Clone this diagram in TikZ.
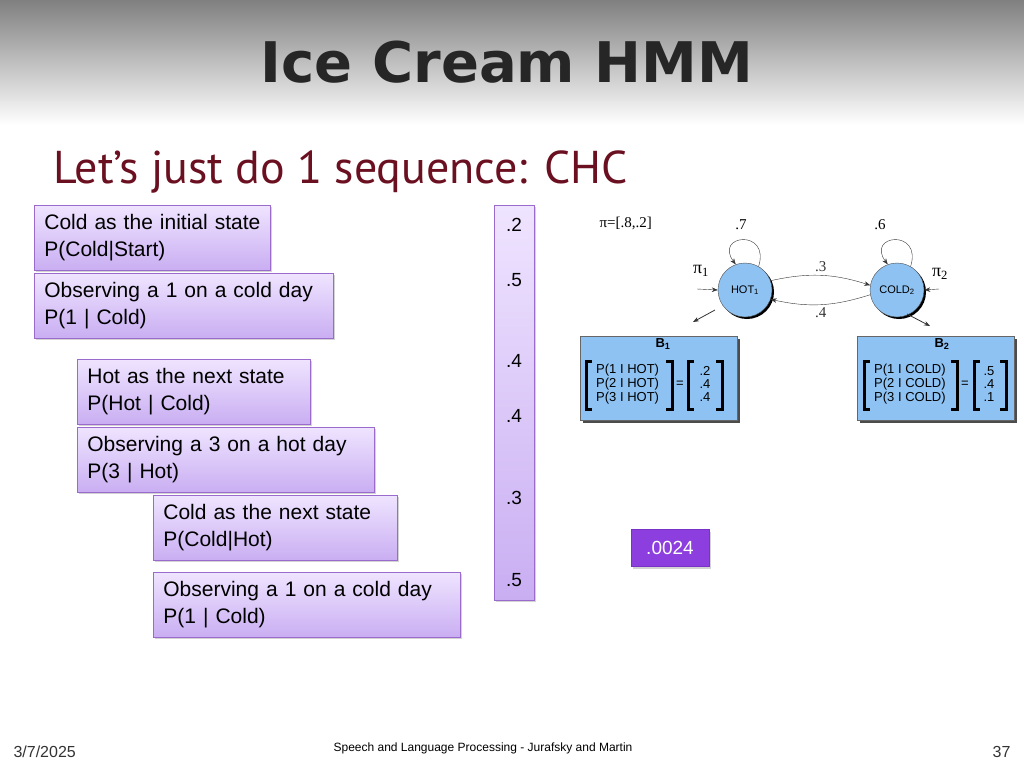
\documentclass[tikz,border=0pt]{standalone}
\usepackage{fontspec}
\setmainfont{Liberation Sans}
\newfontfamily\titlefont{DejaVu Sans}
\newfontfamily\subfont{PT Sans}
\newfontfamily\serf{Liberation Serif}
\usetikzlibrary{arrows.meta,shadows}
\definecolor{boxtop}{HTML}{EFE4FF}
\definecolor{boxbot}{HTML}{C9AEF2}
\definecolor{boxline}{HTML}{9A6ACD}
\definecolor{dred}{HTML}{6B1020}
\definecolor{hmmblue}{HTML}{8EC2F2}
\tikzset{
  lbox/.style={draw=boxline,line width=0.8pt,top color=boxtop,bottom color=boxbot,
    drop shadow={shadow xshift=2pt,shadow yshift=-2pt,opacity=0.35},
    anchor=north west,align=left,inner sep=0pt,text width=#1,minimum height=65pt,
    font=\fontsize{21}{27}\selectfont},
  st/.style={circle,draw=black!70,fill=hmmblue,minimum size=54pt,inner sep=0pt,
    drop shadow={shadow xshift=2pt,shadow yshift=-2pt,fill=black,opacity=1},font=\fontsize{11}{12}\selectfont},
  bbox/.style={draw=black!60,fill=hmmblue,anchor=north west,minimum width=157pt,minimum height=84pt,
    drop shadow={shadow xshift=2.5pt,shadow yshift=-2.5pt,fill=black!70,opacity=1}},
  val/.style={font=\fontsize{19}{20}\selectfont},
  arr/.style={-{Stealth[length=6pt]},black!80},
  lab/.style={font=\fontsize{15}{15}\selectfont\serf},
  mtx/.style={font=\fontsize{13}{13}\selectfont,anchor=west,inner sep=0pt},
  brk/.style={line width=3pt}
}
\begin{document}
\begin{tikzpicture}[x=1pt,y=-1pt]
\useasboundingbox (0,0) rectangle (1024,768);
\shade[top color=black!50,bottom color=white] (0,0) rectangle (1024,125);
\node[font=\titlefont\bfseries\fontsize{56}{56}\selectfont,text=black!85] (title) at (507,62) {Ice Cream HMM};
\node[anchor=west,font=\subfont\fontsize{46}{46}\selectfont,text=dred] (sub) at (50,172) {Let’s just do 1 sequence: CHC};

\node[lbox=236pt] (b1) at (34,205) {\hspace*{10pt}Cold as the initial state\\\hspace*{10pt}P(Cold|Start)};
\node[lbox=299pt] (b2) at (34,273) {\hspace*{10pt}Observing a 1 on a cold day\\\hspace*{10pt}P(1 | Cold)};
\node[lbox=233pt] (b3) at (77,359) {\hspace*{10pt}Hot as the next state\\\hspace*{10pt}P(Hot | Cold)};
\node[lbox=297pt] (b4) at (77,427) {\hspace*{10pt}Observing a 3 on a hot day\\\hspace*{10pt}P(3 | Hot)};
\node[lbox=244pt] (b5) at (153,495) {\hspace*{10pt}Cold as the next state\\\hspace*{10pt}P(Cold|Hot)};
\node[lbox=307pt] (b6) at (153,572) {\hspace*{10pt}Observing a 1 on a cold day\\\hspace*{10pt}P(1 | Cold)};

\node[draw=boxline,line width=0.8pt,top color=boxtop,bottom color=boxbot,anchor=north west,
  minimum width=40pt,minimum height=395pt,inner sep=0pt,
  drop shadow={shadow xshift=2pt,shadow yshift=-2pt,opacity=0.35}] (bar) at (494,205) {};
\node[val] (v1) at (514,225) {.2};
\node[val] (v2) at (514,280) {.5};
\node[val] (v3) at (514,361) {.4};
\node[val] (v4) at (514,416) {.4};
\node[val] (v5) at (514,498) {.3};
\node[val] (v6) at (514,580) {.5};

\node[fill={rgb,255:red,140;green,62;blue,222},draw={rgb,255:red,120;green,50;blue,200},
  text=white,minimum width=78pt,minimum height=37pt,font=\fontsize{19}{20}\selectfont,
  drop shadow={shadow xshift=2pt,shadow yshift=-2pt,opacity=0.35}] (res) at (670,548) {.0024};

% HMM
\node[lab,anchor=west] (pi) at (596,223) {π=[.8,.2]};
\node[st] (hot) at (745,290) {HOT\textsubscript{1}};
\node[st] (cold) at (897,290) {COLD\textsubscript{2}};
\draw[arr] (hot.60) .. controls +(12,-38) and +(-22,-30) .. (hot.110);
\draw[arr] (cold.60) .. controls +(12,-38) and +(-22,-30) .. (cold.110);
\node[lab] (l7) at (741,225) {.7};
\node[lab] (l6) at (880,225) {.6};
\draw[arr,thin] (hot.20) to[bend left=15] node[lab,above] {.3} (cold.170);
\draw[arr,thin] (cold.190) to[bend left=15] node[lab,below] {.4} (hot.-20);
\coordinate (p1s) at (697,289);
\draw[arr] (p1s) -- (hot.west);
\node[lab,font=\fontsize{18}{18}\selectfont\serf] (p1) at (701,271) {π\textsubscript{1}};
\coordinate (p2s) at (939,289);
\draw[arr] (p2s) -- (cold.east);
\node[lab,font=\fontsize{18}{18}\selectfont\serf] (p2) at (940,274) {π\textsubscript{2}};
\coordinate (a1) at (693,322);
\draw[arr,thick] (715,310) -- (a1);
\coordinate (a2) at (930,326);
\draw[arr,thick] (907,314) -- (a2);

\node[bbox] (B1) at (580,336) {};
\node[bbox] (B2) at (857,336) {};
\node[font=\bfseries\fontsize{13}{13}\selectfont] at (663,344) {B\textsubscript{1}};
\node[font=\bfseries\fontsize{13}{13}\selectfont] at (942,344) {B\textsubscript{2}};
% B1 matrix
\node[mtx] (m11) at (596,370) {P(1 I HOT)};
\node[mtx] (m12) at (596,384) {P(2 I HOT)};
\node[mtx] (m13) at (596,398) {P(3 I HOT)};
\node[font=\fontsize{13}{13}\selectfont] (e1) at (680,384) {=};
\node[font=\fontsize{13}{13}\selectfont,align=center] (r1) at (705,384) {.2\\.4\\.4};
\draw[brk] (592,361) -- (586,361) -- (586,409) -- (592,409);
\draw[brk] (666,361) -- (672,361) -- (672,409) -- (666,409);
\draw[brk] (694,361) -- (688,361) -- (688,409) -- (694,409);
\draw[brk] (716,361) -- (722,361) -- (722,409) -- (716,409);
% B2 matrix
\node[mtx] (m21) at (874,370) {P(1 I COLD)};
\node[mtx] (m22) at (874,384) {P(2 I COLD)};
\node[mtx] (m23) at (874,398) {P(3 I COLD)};
\node[font=\fontsize{13}{13}\selectfont] (e2) at (965,384) {=};
\node[font=\fontsize{13}{13}\selectfont,align=center] (r2) at (989,384) {.5\\.4\\.1};
\draw[brk] (870,361) -- (864,361) -- (864,409) -- (870,409);
\draw[brk] (951,361) -- (957,361) -- (957,409) -- (951,409);
\draw[brk] (980,361) -- (974,361) -- (974,409) -- (980,409);
\draw[brk] (1000,361) -- (1006,361) -- (1006,409) -- (1000,409);

\node[anchor=west,font=\fontsize{16}{16}\selectfont,text=black!80] (date) at (10,752) {3/7/2025};
\node[font=\fontsize{12}{12}\selectfont] (foot) at (483,748) {Speech and Language Processing - Jurafsky and Martin};
\node[anchor=east,font=\fontsize{16}{16}\selectfont,text=black!80] (pg) at (1014,752) {37};
\end{tikzpicture}
\end{document}
